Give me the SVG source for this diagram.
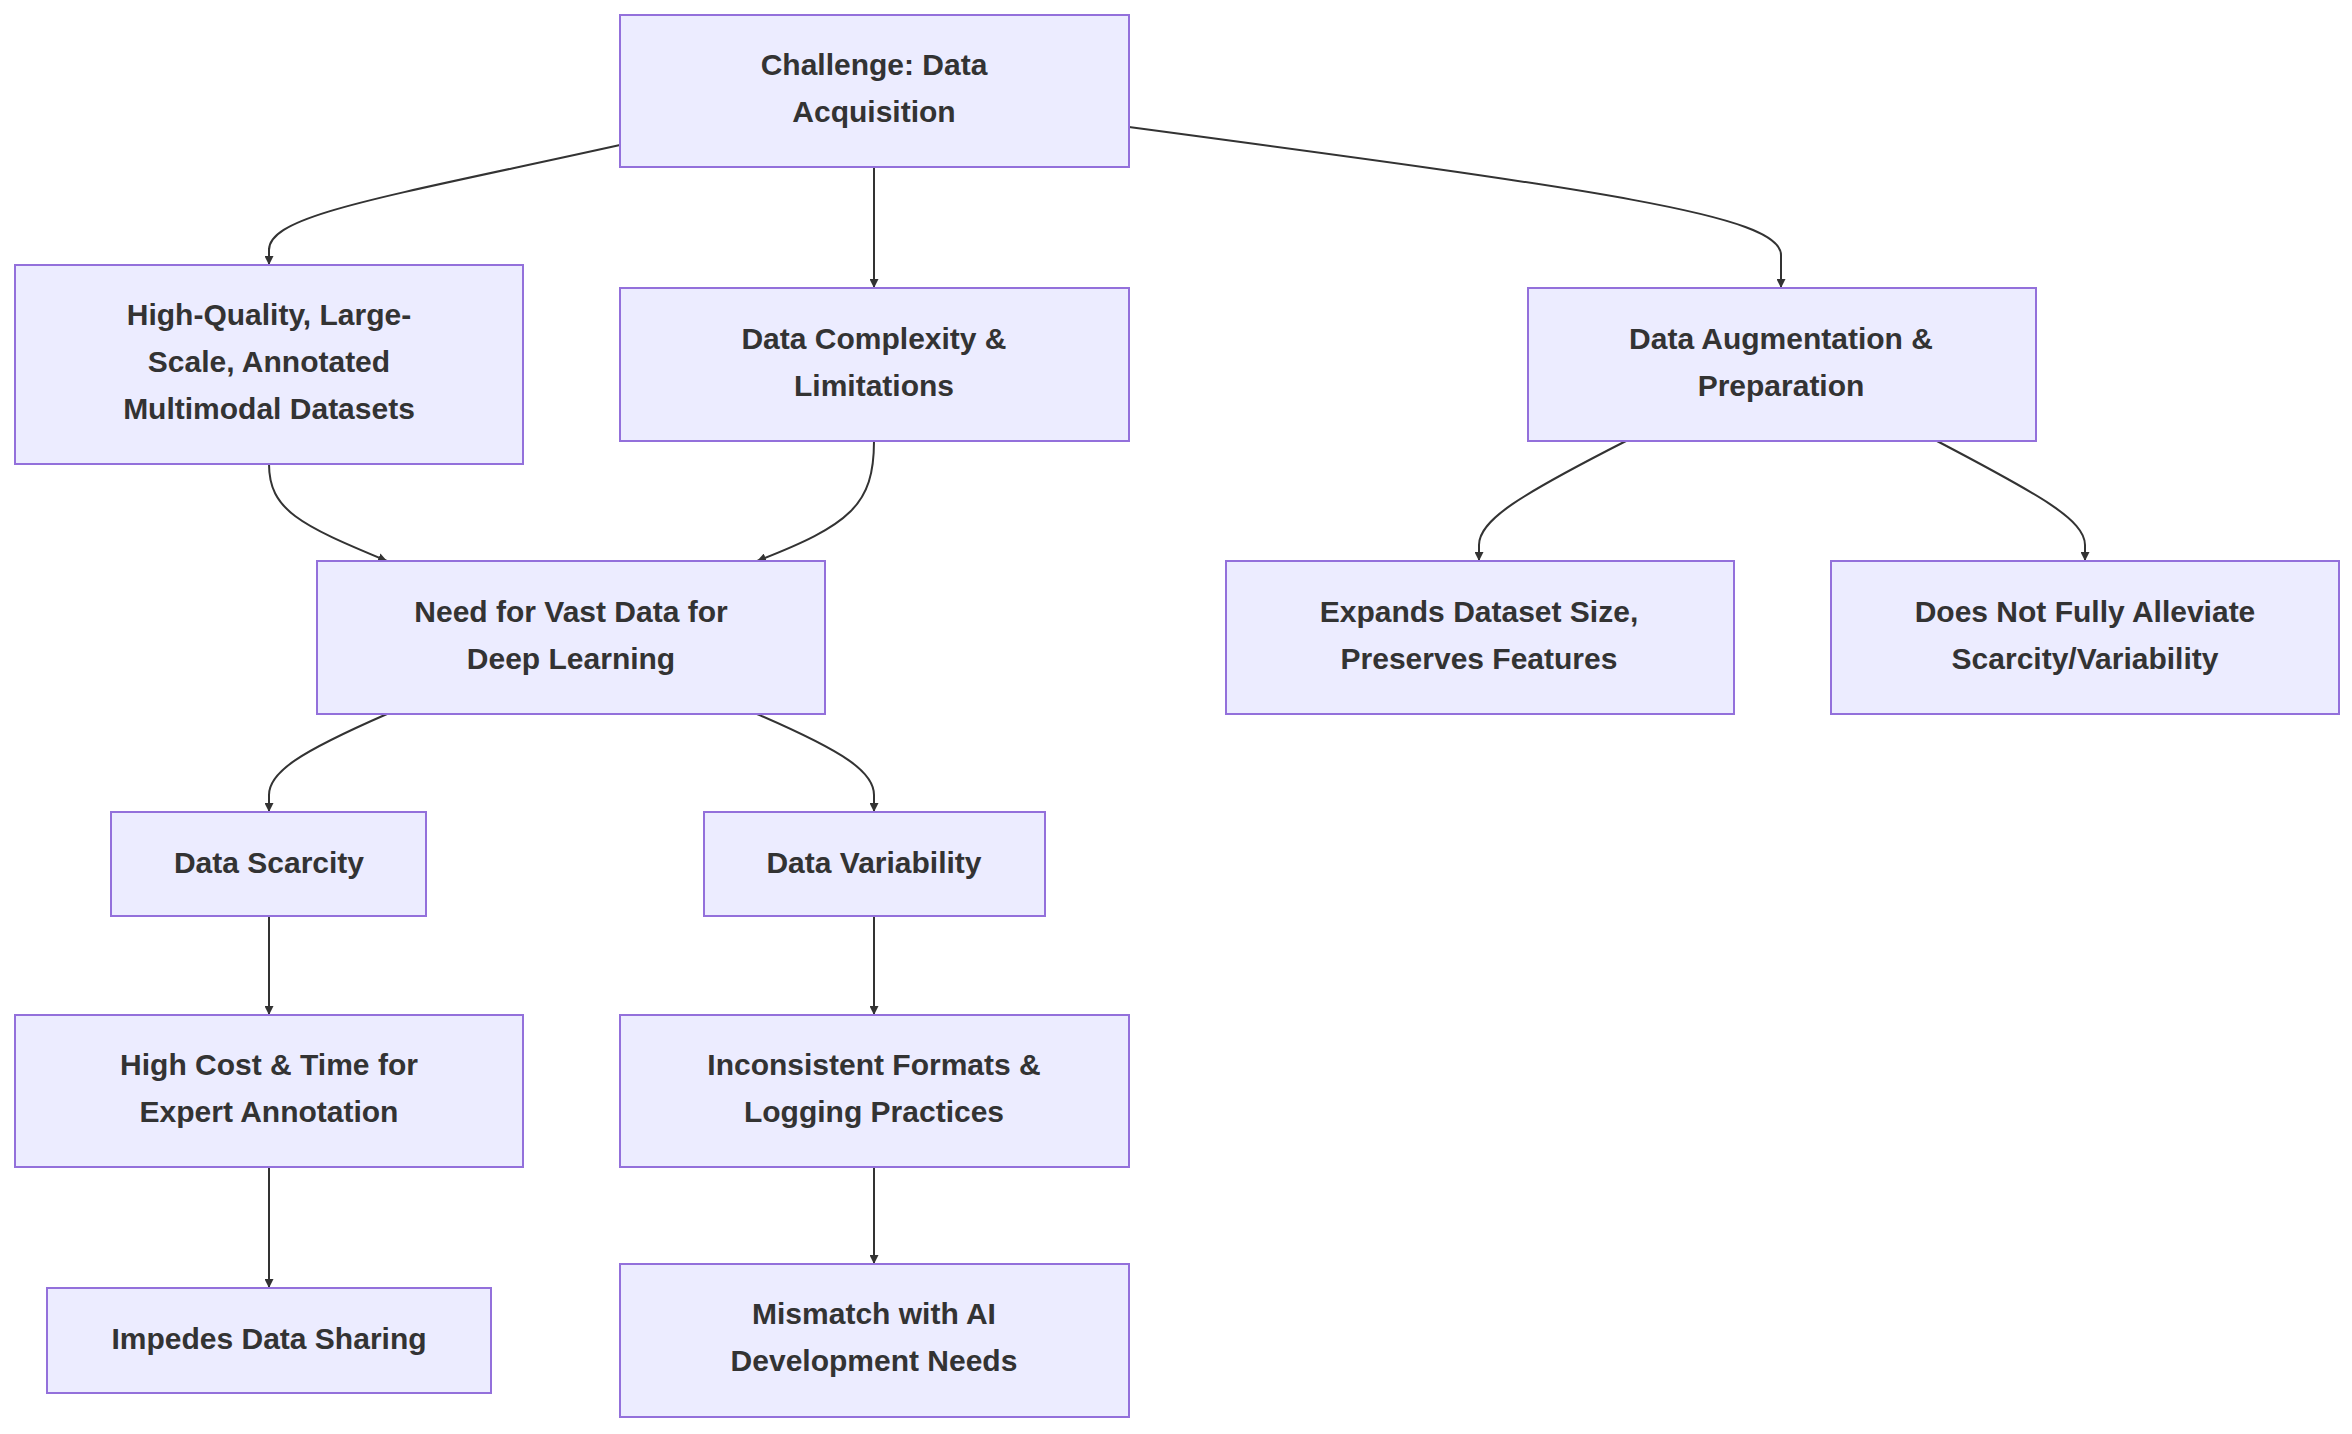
<svg xmlns="http://www.w3.org/2000/svg" width="2352" height="1434" viewBox="0 0 2352 1434">
<style>
.n rect{fill:#ECECFF;stroke:#9370DB;stroke-width:2}
.n text{font-family:"Liberation Sans",Arial,sans-serif;font-weight:bold;font-size:30px;fill:#333;text-anchor:middle}
.e path{fill:none;stroke:#333;stroke-width:2;marker-end:url(#a)}
</style>
<defs><marker id="a" viewBox="0 0 10 10" refX="10" refY="5" markerWidth="9" markerHeight="9" markerUnits="userSpaceOnUse" orient="auto"><path d="M0,0L10,5L0,10z" fill="#333" stroke="none"/></marker></defs>
<rect width="2352" height="1434" fill="#fff"/>
<g class="e">
<path d="M620,145 C380,198 269,215 269,250 L269,265" style="marker-end:none"/>
<path d="M269,248 L269,265"/>
<path d="M874,167 L874,288"/>
<path d="M1129,127 C1600,190 1781,215 1781,255 L1781,288"/>
<path d="M269,464 C269,510 300,525 387,561"/>
<path d="M874,441 C874,505 850,525 757,561"/>
<path d="M1626,441 C1520,495 1479,520 1479,545 L1479,561"/>
<path d="M1937,441 C2040,495 2085,520 2085,545 L2085,561"/>
<path d="M387,714 C300,752 269,772 269,795 L269,812"/>
<path d="M757,714 C845,752 874,772 874,795 L874,812"/>
<path d="M269,916 L269,1015"/>
<path d="M874,916 L874,1015"/>
<path d="M269,1167 L269,1288"/>
<path d="M874,1167 L874,1264"/>
</g>
<g class="n" id="challenge"><rect x="620" y="15" width="509" height="152"/><text x="874" y="75">Challenge: Data</text><text x="874" y="122">Acquisition</text></g>
<g class="n" id="hq"><rect x="15" y="265" width="508" height="199"/><text x="269" y="325">High-Quality, Large-</text><text x="269" y="372">Scale, Annotated</text><text x="269" y="419">Multimodal Datasets</text></g>
<g class="n" id="dcl"><rect x="620" y="288" width="509" height="153"/><text x="874" y="349">Data Complexity &amp;</text><text x="874" y="396">Limitations</text></g>
<g class="n" id="dap"><rect x="1528" y="288" width="508" height="153"/><text x="1781" y="349">Data Augmentation &amp;</text><text x="1781" y="396">Preparation</text></g>
<g class="n" id="need"><rect x="317" y="561" width="508" height="153"/><text x="571" y="622">Need for Vast Data for</text><text x="571" y="669">Deep Learning</text></g>
<g class="n" id="expands"><rect x="1226" y="561" width="508" height="153"/><text x="1479" y="622">Expands Dataset Size,</text><text x="1479" y="669">Preserves Features</text></g>
<g class="n" id="doesnot"><rect x="1831" y="561" width="508" height="153"/><text x="2085" y="622">Does Not Fully Alleviate</text><text x="2085" y="669">Scarcity/Variability</text></g>
<g class="n" id="scarcity"><rect x="111" y="812" width="315" height="104"/><text x="269" y="873">Data Scarcity</text></g>
<g class="n" id="variability"><rect x="704" y="812" width="341" height="104"/><text x="874" y="873">Data Variability</text></g>
<g class="n" id="highcost"><rect x="15" y="1015" width="508" height="152"/><text x="269" y="1075">High Cost &amp; Time for</text><text x="269" y="1122">Expert Annotation</text></g>
<g class="n" id="inconsistent"><rect x="620" y="1015" width="509" height="152"/><text x="874" y="1075">Inconsistent Formats &amp;</text><text x="874" y="1122">Logging Practices</text></g>
<g class="n" id="impedes"><rect x="47" y="1288" width="444" height="105"/><text x="269" y="1349">Impedes Data Sharing</text></g>
<g class="n" id="mismatch"><rect x="620" y="1264" width="509" height="153"/><text x="874" y="1324">Mismatch with AI</text><text x="874" y="1371">Development Needs</text></g>
</svg>
